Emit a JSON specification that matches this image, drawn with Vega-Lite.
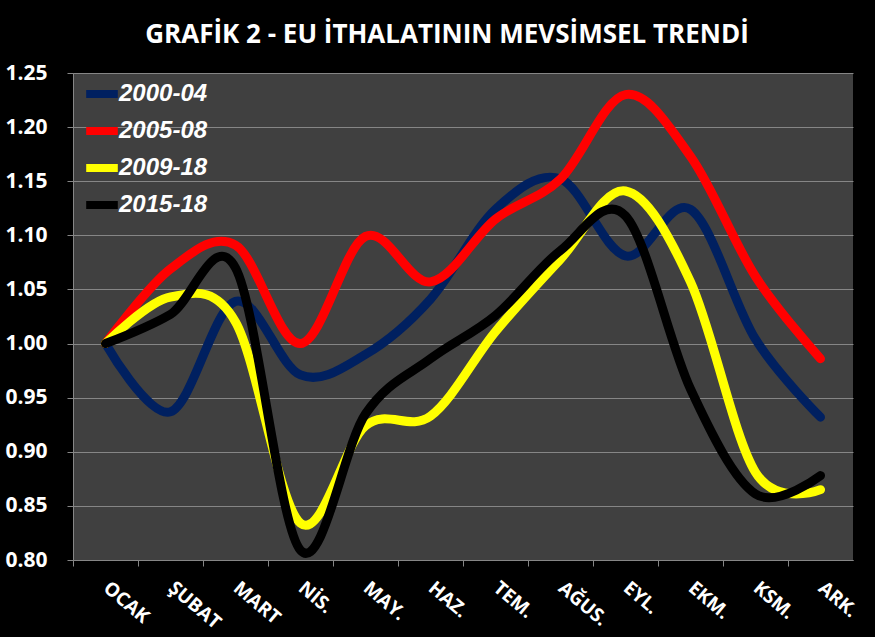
{
  "$schema": "https://vega.github.io/schema/vega-lite/v6.json",
  "autosize": {"type": "none"},
  "padding": {"left": 73, "top": 73, "right": 22, "bottom": 77},
  "width": 780,
  "height": 487,
  "background": "#000000",
  "title": {"text": "GRAFİK 2 - EU İTHALATININ MEVSİMSEL TRENDİ", "color": "#ffffff", "font": "Open Sans", "fontSize": 26, "fontWeight": "bold", "anchor": "middle", "offset": 14, "dx": -16},
  "config": {"view": {"fill": "#404040", "stroke": null}},
  "data": {"values": [
    {"ay": "OCAK", "donem": "2000-04", "deger": 1.0},
    {"ay": "ŞUBAT", "donem": "2000-04", "deger": 0.937},
    {"ay": "MART", "donem": "2000-04", "deger": 1.039},
    {"ay": "NİS.", "donem": "2000-04", "deger": 0.971},
    {"ay": "MAY.", "donem": "2000-04", "deger": 0.99},
    {"ay": "HAZ.", "donem": "2000-04", "deger": 1.041},
    {"ay": "TEM.", "donem": "2000-04", "deger": 1.124},
    {"ay": "AĞUS.", "donem": "2000-04", "deger": 1.152},
    {"ay": "EYL.", "donem": "2000-04", "deger": 1.081},
    {"ay": "EKM.", "donem": "2000-04", "deger": 1.124},
    {"ay": "KSM.", "donem": "2000-04", "deger": 1.004},
    {"ay": "ARK.", "donem": "2000-04", "deger": 0.932},
    {"ay": "OCAK", "donem": "2005-08", "deger": 1.0},
    {"ay": "ŞUBAT", "donem": "2005-08", "deger": 1.069},
    {"ay": "MART", "donem": "2005-08", "deger": 1.091},
    {"ay": "NİS.", "donem": "2005-08", "deger": 1.0},
    {"ay": "MAY.", "donem": "2005-08", "deger": 1.099},
    {"ay": "HAZ.", "donem": "2005-08", "deger": 1.057},
    {"ay": "TEM.", "donem": "2005-08", "deger": 1.115},
    {"ay": "AĞUS.", "donem": "2005-08", "deger": 1.152},
    {"ay": "EYL.", "donem": "2005-08", "deger": 1.23},
    {"ay": "EKM.", "donem": "2005-08", "deger": 1.173},
    {"ay": "KSM.", "donem": "2005-08", "deger": 1.062},
    {"ay": "ARK.", "donem": "2005-08", "deger": 0.986},
    {"ay": "OCAK", "donem": "2009-18", "deger": 1.0},
    {"ay": "ŞUBAT", "donem": "2009-18", "deger": 1.043},
    {"ay": "MART", "donem": "2009-18", "deger": 1.02},
    {"ay": "NİS.", "donem": "2009-18", "deger": 0.834},
    {"ay": "MAY.", "donem": "2009-18", "deger": 0.924},
    {"ay": "HAZ.", "donem": "2009-18", "deger": 0.933},
    {"ay": "TEM.", "donem": "2009-18", "deger": 1.011},
    {"ay": "AĞUS.", "donem": "2009-18", "deger": 1.078},
    {"ay": "EYL.", "donem": "2009-18", "deger": 1.141},
    {"ay": "EKM.", "donem": "2009-18", "deger": 1.057},
    {"ay": "KSM.", "donem": "2009-18", "deger": 0.881},
    {"ay": "ARK.", "donem": "2009-18", "deger": 0.865},
    {"ay": "OCAK", "donem": "2015-18", "deger": 1.0},
    {"ay": "ŞUBAT", "donem": "2015-18", "deger": 1.027},
    {"ay": "MART", "donem": "2015-18", "deger": 1.07},
    {"ay": "NİS.", "donem": "2015-18", "deger": 0.809},
    {"ay": "MAY.", "donem": "2015-18", "deger": 0.935},
    {"ay": "HAZ.", "donem": "2015-18", "deger": 0.986},
    {"ay": "TEM.", "donem": "2015-18", "deger": 1.026},
    {"ay": "AĞUS.", "donem": "2015-18", "deger": 1.086},
    {"ay": "EYL.", "donem": "2015-18", "deger": 1.118},
    {"ay": "EKM.", "donem": "2015-18", "deger": 0.958},
    {"ay": "KSM.", "donem": "2015-18", "deger": 0.861},
    {"ay": "ARK.", "donem": "2015-18", "deger": 0.878}
  ]},
  "mark": {"type": "line", "interpolate": "cardinal", "strokeWidth": 9, "strokeCap": "round", "strokeJoin": "round"},
  "encoding": {
    "x": {
      "field": "ay", "type": "ordinal",
      "sort": ["OCAK", "ŞUBAT", "MART", "NİS.", "MAY.", "HAZ.", "TEM.", "AĞUS.", "EYL.", "EKM.", "KSM.", "ARK."],
      "scale": {"type": "point", "padding": 0.5},
      "axis": {"title": null, "grid": false, "domainColor": "#868686", "tickColor": "#868686", "tickSize": 6, "tickOffset": -32.5, "labelOffset": 32.5, "labelAngle": 40, "labelAlign": "left", "labelBaseline": "middle", "labelPadding": 19, "labelColor": "#ffffff", "labelFont": "Open Sans", "labelFontSize": 19, "labelFontWeight": "bold"}
    },
    "y": {
      "field": "deger", "type": "quantitative",
      "scale": {"domain": [0.8, 1.25], "zero": false, "nice": false},
      "axis": {"title": null, "values": [0.8, 0.85, 0.9, 0.95, 1.0, 1.05, 1.1, 1.15, 1.2, 1.25], "format": ".2f", "domainColor": "#868686", "tickColor": "#868686", "gridColor": "#868686", "gridWidth": 1.2, "tickSize": 6, "labelPadding": 20, "labelColor": "#ffffff", "labelFont": "Open Sans", "labelFontSize": 21, "labelFontWeight": "bold"}
    },
    "color": {
      "field": "donem", "type": "nominal",
      "scale": {"domain": ["2000-04", "2005-08", "2009-18", "2015-18"], "range": ["#002060", "#ff0000", "#ffff00", "#000000"]},
      "legend": {"orient": "none", "legendX": 9, "legendY": 1, "title": null, "symbolType": "stroke", "symbolSize": 1000, "symbolStrokeWidth": 8, "labelColor": "#ffffff", "labelFont": "Liberation Sans", "labelFontSize": 24, "labelFontWeight": "bold", "labelFontStyle": "italic", "rowPadding": 1, "labelOffset": -3}
    }
  }
}
